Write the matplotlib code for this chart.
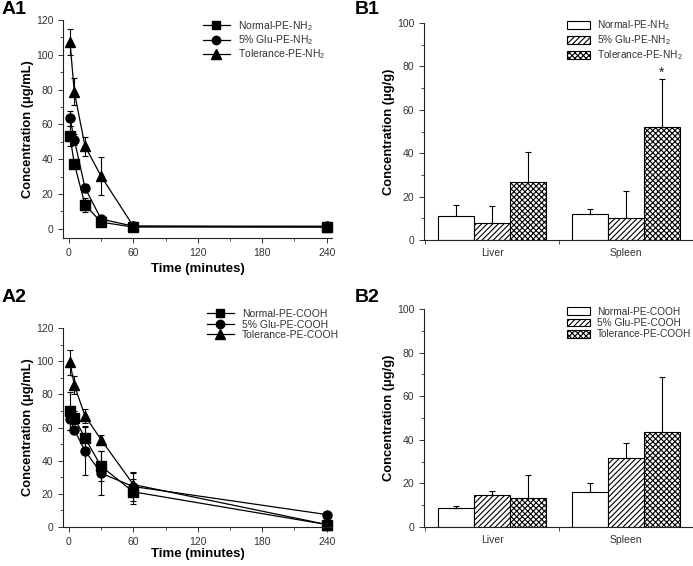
import numpy as np
import matplotlib
matplotlib.use("Agg")
import matplotlib.pyplot as plt
from matplotlib.ticker import MultipleLocator, FixedLocator
from matplotlib.lines import Line2D

plt.rcParams['font.family'] = ['Liberation Sans', 'DejaVu Sans']
plt.rcParams['mathtext.default'] = 'regular'
plt.rcParams['hatch.linewidth'] = 0.8

# time points (minutes)
time = [1, 5, 15, 30, 60, 240]

# A1: PE-NH2 in plasma
nh2_names = ['Normal-PE-NH$_2$', '5% Glu-PE-NH$_2$', 'Tolerance-PE-NH$_2$']
nh2_normal = [53.3, 37.5, 13.8, 3.8, 1.0, 1.0]
nh2_normal_err = [5.5, 2.0, 4.0, 1.0, 0.5, 0.5]
nh2_glu = [63.5, 51.3, 23.5, 5.6, 1.5, 1.5]
nh2_glu_err = [4.2, 3.0, 2.0, 1.0, 0.5, 0.5]
nh2_tol = [107.5, 78.7, 47.5, 30.2, 1.5, 1.0]
nh2_tol_err = [7.5, 7.8, 5.5, 11.0, 0.5, 0.5]

# A2: PE-COOH in plasma
cooh_names = ['Normal-PE-COOH', '5% Glu-PE-COOH', 'Tolerance-PE-COOH']
cooh_normal = [70.0, 66.0, 53.6, 36.6, 21.2, 1.5]
cooh_normal_err = [11.4, 4.0, 7.5, 9.0, 7.6, 0.5]
cooh_glu = [65.4, 58.6, 46.0, 32.4, 24.4, 7.5]
cooh_glu_err = [7.0, 2.0, 14.5, 13.4, 9.0, 1.0]
cooh_tol = [99.4, 85.6, 67.0, 52.6, 25.6, 1.5]
cooh_tol_err = [7.6, 5.4, 4.0, 3.0, 7.0, 0.5]

# B: organ distribution (ug/g)
organs = ['Liver', 'Spleen']
b1_means = [[11.0, 12.0], [8.0, 10.0], [26.5, 52.0]]
b1_errs = [[5.0, 2.5], [7.5, 12.5], [14.0, 22.0]]
b2_means = [[8.5, 16.0], [14.5, 31.5], [13.5, 43.5]]
b2_errs = [[1.0, 4.0], [2.0, 7.0], [10.5, 25.5]]

markers = ['s', 'o', '^']
hatches = [None, '//////', 'xxxxxx']
tick_col = '#333333'

fig = plt.figure(figsize=(6.93, 5.66), dpi=100)
W, H = 693.0, 566.0


def ax_px(l, t, r, b):
    return fig.add_axes([l / W, 1 - b / H, (r - l) / W, (b - t) / H])


def style(ax):
    ax.spines['top'].set_visible(False)
    ax.spines['right'].set_visible(False)
    for s in ['left', 'bottom']:
        ax.spines[s].set_linewidth(0.8)
        ax.spines[s].set_color('#222222')
    ax.tick_params(which='major', direction='out', length=3.5, width=0.7,
                   labelsize=7.5, labelcolor=tick_col, color='#333333')
    ax.tick_params(which='minor', direction='out', length=2, width=0.6, color='#333333')


def grey_legend(leg):
    for t in leg.get_texts():
        t.set_color('#333333')


def line_panel(ax, series, errs, names, ylim, leg_anchor, xlabelpad):
    handles = []
    for i in range(3):
        ax.errorbar(time, series[i], yerr=errs[i], color='black', marker=markers[i],
                    markersize=6.5 if i != 2 else 7, lw=0.9, elinewidth=0.8,
                    capsize=2.5, capthick=0.8, clip_on=False)
        handles.append(Line2D([], [], color='black', lw=0.9, marker=markers[i],
                              markersize=6 if i != 2 else 6.5, label=names[i]))
    style(ax)
    ax.set_xlim(-5.5, 245)
    ax.set_ylim(*ylim)
    ax.xaxis.set_major_locator(FixedLocator([0, 60, 120, 180, 240]))
    ax.xaxis.set_minor_locator(FixedLocator([30, 90, 150, 210]))
    ax.yaxis.set_major_locator(FixedLocator([0, 20, 40, 60, 80, 100, 120]))
    ax.yaxis.set_minor_locator(FixedLocator([10, 30, 50, 70, 90, 110]))
    ax.set_xlabel('Time (minutes)', fontsize=9.5, fontweight='bold', labelpad=xlabelpad)
    ax.set_ylabel('Concentration (\u03bcg/mL)', fontsize=9.3, fontweight='bold', labelpad=1)
    leg = ax.legend(handles=handles, loc='upper left', frameon=False, fontsize=7.5,
                    handlelength=2.6, handletextpad=0.75, labelspacing=0.05,
                    borderaxespad=0, borderpad=0, bbox_to_anchor=leg_anchor)
    grey_legend(leg)


def bar_panel(ax, means, errs, names, leg_anchor, star=False):
    x = np.arange(len(organs))
    w = 0.268
    for i in range(3):
        pos = x + (i - 1) * w
        ax.bar(pos, means[i], width=w, facecolor='white', edgecolor='black',
               hatch=hatches[i], linewidth=0.8, label=names[i])
        ax.errorbar(pos, means[i], yerr=[[0, 0], errs[i]], fmt='none', ecolor='black',
                    elinewidth=0.8, capsize=2.5, capthick=0.8)
    if star:
        ax.text(1 + w, means[2][1] + errs[2][1] + 3, '*', ha='center', va='center',
                fontsize=10, color='#222222')
    style(ax)
    ax.set_xlim(-0.51, 1.5)
    ax.set_ylim(0, 100)
    ax.set_xticks(x)
    ax.set_xticklabels(organs)
    ax.tick_params(axis='x', which='major', length=0, pad=6)
    ax.xaxis.set_minor_locator(FixedLocator([-0.5, 0.5, 1.5]))
    ax.tick_params(axis='x', which='minor', length=3)
    ax.yaxis.set_major_locator(MultipleLocator(20))
    ax.yaxis.set_minor_locator(MultipleLocator(10))
    ax.set_ylabel('Concentration (\u03bcg/g)', fontsize=9.3, fontweight='bold', labelpad=1.5)
    leg = ax.legend(loc='upper left', frameon=False, fontsize=7.3, handlelength=2.3,
                    handleheight=0.8, handletextpad=0.65, labelspacing=0.12,
                    borderaxespad=0, borderpad=0, bbox_to_anchor=leg_anchor)
    grey_legend(leg)


axA1 = ax_px(63, 20, 332, 238)
line_panel(axA1, [nh2_normal, nh2_glu, nh2_tol], [nh2_normal_err, nh2_glu_err, nh2_tol_err],
           nh2_names, (-5.3, 120), (0.52, 1.005), 4)

axA2 = ax_px(63, 328, 332, 527)
line_panel(axA2, [cooh_normal, cooh_glu, cooh_tol], [cooh_normal_err, cooh_glu_err, cooh_tol_err],
           cooh_names, (0, 120), (0.535, 1.095), 1)

axB1 = ax_px(424, 23, 693, 240)
bar_panel(axB1, b1_means, b1_errs, nh2_names, (0.532, 1.02), star=True)

axB2 = ax_px(424, 309, 693, 527)
bar_panel(axB2, b2_means, b2_errs, cooh_names, (0.532, 1.01))

for lab, x, y in [('A1', 2, 1), ('B1', 355, 1), ('A2', 2, 289), ('B2', 355, 289)]:
    fig.text(x / W, 1 - y / H, lab, fontsize=14, fontweight='bold', va='top', ha='left')

fig.savefig('out.png', dpi=100)
